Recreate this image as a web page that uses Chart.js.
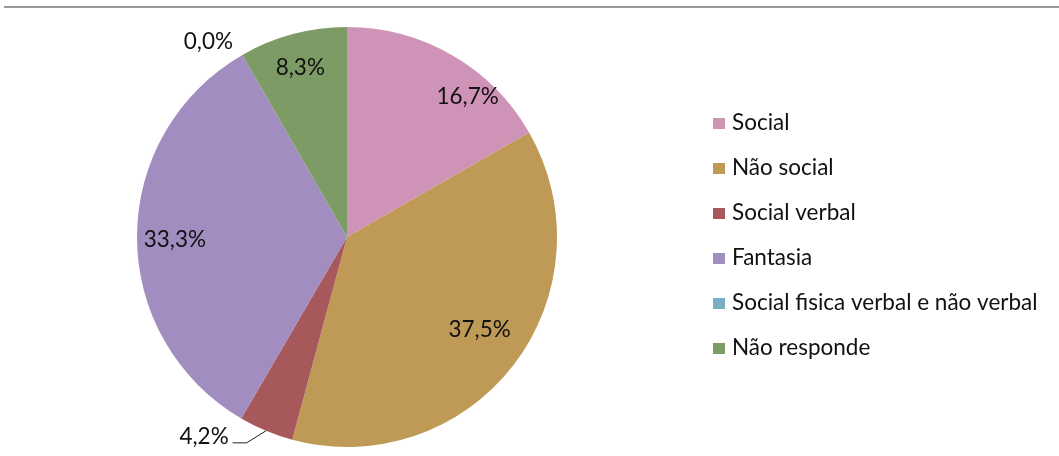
<!DOCTYPE html>
<html>
<head>
<meta charset="utf-8">
<script src="https://cdn.jsdelivr.net/npm/chart.js@4"></script>
<style>
  html, body { margin: 0; padding: 0; background: #fff; }
  #wrap { position: relative; width: 1059px; height: 456px; overflow: hidden; }
  #topline { position: absolute; left: 4px; right: 0; top: 6px; height: 0; border-top: 2px solid #9a9a9a; }
  canvas { position: absolute; left: 0; top: 0; }
</style>
</head>
<body>
<div id="wrap">
  <div id="topline"></div>
  <canvas id="pieChart" width="1059" height="456"></canvas>
</div>
<script>
// categorias e valores (%)
const categories = ["Social", "Não social", "Social verbal", "Fantasia", "Social fisica verbal e não verbal", "Não responde"];
const values = [16.7, 37.5, 4.2, 33.3, 0.0, 8.3];
const colors = ["#CF93B8", "#BE9A56", "#A6585A", "#A28DC0", "#7BAEC4", "#7D9B64"];

// posição dos rótulos: fração do raio e desvio angular (graus) em relação ao meio da fatia
const labelPos = [
  { r: 0.88, da: 10.7 },
  { r: 0.77, da: -2.7 },
  { r: 1.17, da: 12.9, leader: true },
  { r: 0.82, da: -1.2 },
  { r: 1.14, da: -5.5 },
  { r: 0.835, da: -0.5 }
];

const FONT = "22.5px Lato";

function fmt(v) {
  return v.toFixed(1).replace(".", ",") + "%";
}

const labelPlugin = {
  id: "pieLabels",
  afterDatasetsDraw(chart) {
    const ctx = chart.ctx;
    const meta = chart.getDatasetMeta(0);
    ctx.save();
    ctx.font = FONT;
    ctx.fillStyle = "#111";
    ctx.textAlign = "center";
    ctx.textBaseline = "middle";
    meta.data.forEach((arc, i) => {
      const p = arc.getProps(["x", "y", "startAngle", "endAngle", "outerRadius"], true);
      const mid = (p.startAngle + p.endAngle) / 2;
      const a = mid + labelPos[i].da * Math.PI / 180;
      const lx = p.x + Math.cos(a) * p.outerRadius * labelPos[i].r;
      const ly = p.y + Math.sin(a) * p.outerRadius * labelPos[i].r;
      const txt = fmt(values[i]);
      ctx.fillText(txt, lx, ly);
      if (labelPos[i].leader) {
        const w = ctx.measureText(txt).width;
        const ex = p.x + Math.cos(mid) * p.outerRadius;
        const ey = p.y + Math.sin(mid) * p.outerRadius;
        ctx.beginPath();
        ctx.strokeStyle = "#222";
        ctx.lineWidth = 1;
        ctx.moveTo(lx + w / 2 + 4, ly + 6);
        ctx.lineTo(lx + w / 2 + 18, ly + 6);
        ctx.lineTo(ex, ey);
        ctx.stroke();
      }
    });
    ctx.restore();
  }
};

const legendPlugin = {
  id: "sideLegend",
  afterDraw(chart) {
    const ctx = chart.ctx;
    ctx.save();
    ctx.font = FONT;
    ctx.textBaseline = "middle";
    ctx.textAlign = "left";
    categories.forEach((c, i) => {
      const y = 122.5 + i * 45;
      ctx.fillStyle = colors[i];
      ctx.fillRect(713, y - 4.5, 12, 11);
      ctx.fillStyle = "#111";
      ctx.fillText(c, 732, y);
    });
    ctx.restore();
  }
};

function draw() {
  new Chart(document.getElementById("pieChart").getContext("2d"), {
    type: "pie",
    data: {
      labels: categories,
      datasets: [{
        data: values,
        backgroundColor: colors,
        borderWidth: 0,
        hoverOffset: 0
      }]
    },
    options: {
      responsive: false,
      animation: false,
      events: [],
      layout: { padding: { left: 137, right: 502, top: 27, bottom: 9 } },
      plugins: {
        legend: { display: false },
        tooltip: { enabled: false }
      }
    },
    plugins: [labelPlugin, legendPlugin]
  });
}

document.fonts.load(FONT).then(draw, draw);
</script>
</body>
</html>
